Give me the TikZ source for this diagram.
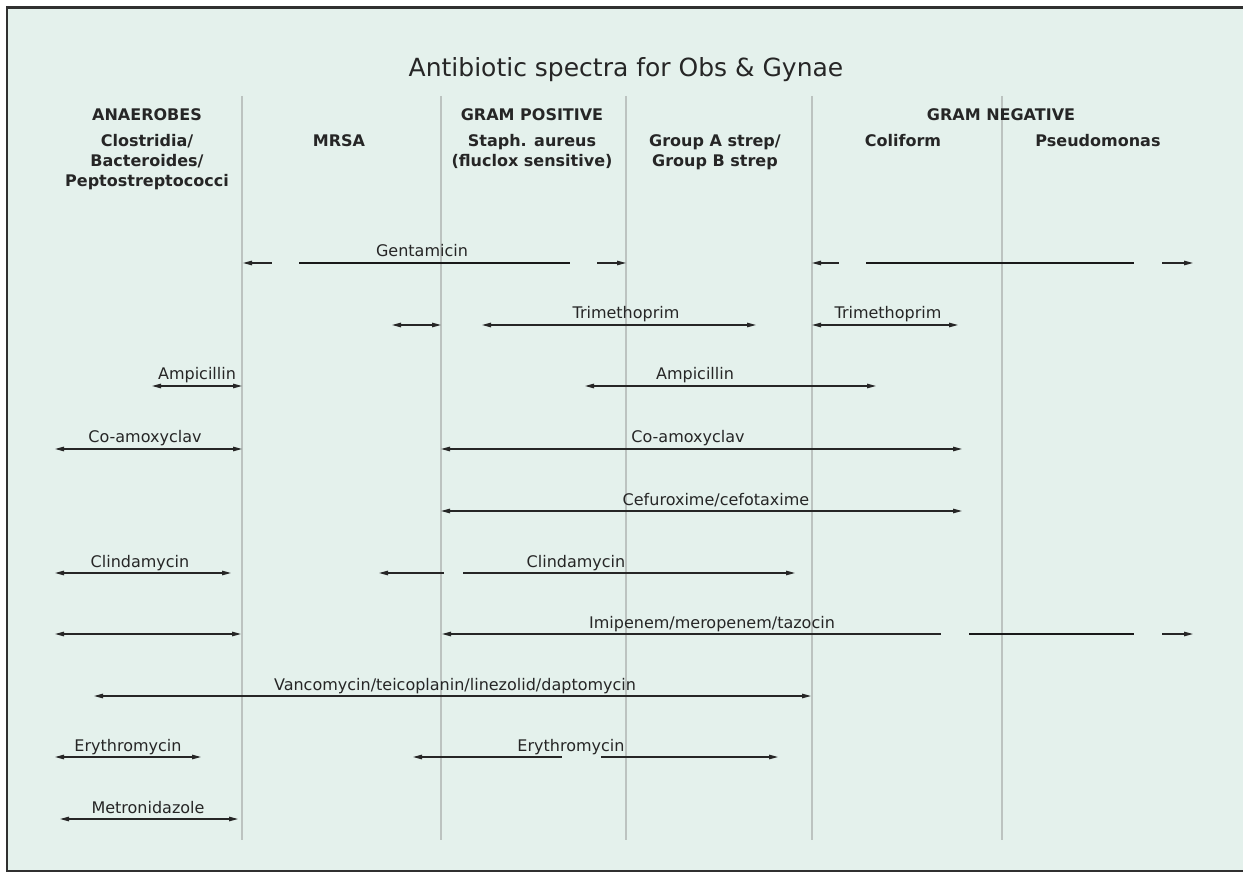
\documentclass[tikz,border=0pt]{standalone}
\usepackage{fontspec}
\setmainfont{DejaVu Sans}
\usetikzlibrary{arrows.meta}
\definecolor{bgc}{HTML}{E4F1EC}
\definecolor{ink}{HTML}{262626}
\definecolor{sepc}{HTML}{BCC3C0}
\definecolor{framec}{HTML}{303030}
\begin{document}
\begin{tikzpicture}[x=1pt,y=-1pt,
  >={Triangle[length=9pt,width=4.5pt]},
  lbl/.style={font=\fontsize{16}{19}\selectfont, text=ink, inner sep=0pt, anchor=base},
  hd/.style={font=\fontsize{16}{20}\selectfont\bfseries, text=ink, inner sep=0pt, anchor=base, align=center},
  ttl/.style={font=\fontsize{25}{30}\selectfont, text=ink, inner sep=0pt, anchor=base},
  rng/.style={draw=ink, line width=1.1pt},
  bar/.style={draw=black!90, line width=2.6pt},
  sepline/.style={draw=sepc, line width=1.2pt}]
\useasboundingbox (0,0) rectangle (1243,874);
\fill[white] (0,0) rectangle (1243,874);
\filldraw[fill=bgc, draw=framec, line width=2.6pt] (7,7.5) rectangle (1262,871);

% column separators
\foreach \n/\x in {s1/242, s2/441, s3/626, s4/812, s5/1002} {
  \coordinate (\n t) at (\x,96);
  \coordinate (\n b) at (\x,840);
  \draw[sepline] (\n t) -- (\n b);
}

% title and headers (base = baseline of the last line)
\node[ttl] (title) at (626,77) {Antibiotic spectra for Obs \& Gynae};
\node[hd] (hAn) at (147,121) {ANAEROBES};
\node[hd] (hGp) at (532,121) {GRAM POSITIVE};
\node[hd] (hGn) at (1001,121) {GRAM NEGATIVE};
\node[hd] (cAn) at (147,187) {Clostridia/\\Bacteroides/\\Peptostreptococci};
\node[hd] (cMr) at (339,147) {MRSA};
\node[hd] (cSa) at (532,167) {Staph. aureus\\(fluclox sensitive)};
\node[hd] (cGs) at (715,167) {Group A strep/\\Group B strep};
\node[hd] (cCo) at (903,147) {Coliform};
\node[hd] (cPs) at (1098,147) {Pseudomonas};

% Gentamicin
\coordinate (g1) at (243,263); \coordinate (g2) at (272,263);
\coordinate (g3) at (299,263); \coordinate (g4) at (570,263);
\coordinate (g5) at (597,263); \coordinate (g6) at (626,263);
\coordinate (g7) at (812,263); \coordinate (g8) at (839,263);
\coordinate (g9) at (866,263); \coordinate (g10) at (1134,263);
\coordinate (g11) at (1162,263); \coordinate (g12) at (1193,263);
\draw[rng,<-] (g1) -- (g2);
\draw[bar] (g3) -- (g4);
\draw[rng,->] (g5) -- (g6);
\draw[rng,<-] (g7) -- (g8);
\draw[bar] (g9) -- (g10);
\draw[rng,->] (g11) -- (g12);
\node[lbl] (lGen) at (422,257) {Gentamicin};

% Trimethoprim
\coordinate (t1) at (392,325); \coordinate (t2) at (441,325);
\coordinate (t3) at (482,325); \coordinate (t4) at (756,325);
\coordinate (t5) at (812,325); \coordinate (t6) at (958,325);
\draw[rng,<->] (t1) -- (t2);
\draw[rng,<->] (t3) -- (t4);
\draw[rng,<->] (t5) -- (t6);
\node[lbl] (lTri1) at (626,319) {Trimethoprim};
\node[lbl] (lTri2) at (888,319) {Trimethoprim};

% Ampicillin
\coordinate (a1) at (152,386); \coordinate (a2) at (242,386);
\coordinate (a3) at (585,386); \coordinate (a4) at (876,386);
\draw[rng,<->] (a1) -- (a2);
\draw[rng,<->] (a3) -- (a4);
\node[lbl] (lAmp1) at (197,380) {Ampicillin};
\node[lbl] (lAmp2) at (695,380) {Ampicillin};

% Co-amoxyclav
\coordinate (c1) at (55,449); \coordinate (c2) at (242,449);
\coordinate (c3) at (441,449); \coordinate (c4) at (962,449);
\draw[rng,<->] (c1) -- (c2);
\draw[rng,<->] (c3) -- (c4);
\node[lbl] (lCo1) at (145,443) {Co-amoxyclav};
\node[lbl] (lCo2) at (688,443) {Co-amoxyclav};

% Cefuroxime
\coordinate (f1) at (441,511); \coordinate (f2) at (962,511);
\draw[rng,<->] (f1) -- (f2);
\node[lbl] (lCef) at (716,505) {Cefuroxime/cefotaxime};

% Clindamycin
\coordinate (d1) at (55,573); \coordinate (d2) at (231,573);
\coordinate (d3) at (379,573); \coordinate (d4) at (444,573);
\coordinate (d5) at (463,573); \coordinate (d6) at (795,573);
\draw[rng,<->] (d1) -- (d2);
\draw[rng,<-] (d3) -- (d4);
\draw[rng,->] (d5) -- (d6);
\node[lbl] (lCl1) at (140,567) {Clindamycin};
\node[lbl] (lCl2) at (576,567) {Clindamycin};

% Imipenem
\coordinate (i1) at (55,634); \coordinate (i2) at (241,634);
\coordinate (i3) at (442,634); \coordinate (i4) at (941,634);
\coordinate (i5) at (969,634); \coordinate (i6) at (1134,634);
\coordinate (i7) at (1162,634); \coordinate (i8) at (1193,634);
\draw[rng,<->] (i1) -- (i2);
\draw[rng,<-] (i3) -- (i4);
\draw[bar] (i5) -- (i6);
\draw[rng,->] (i7) -- (i8);
\node[lbl] (lImi) at (712,628) {Imipenem/meropenem/tazocin};

% Vancomycin
\coordinate (v1) at (94,696); \coordinate (v2) at (811,696);
\draw[rng,<->] (v1) -- (v2);
\node[lbl] (lVan) at (455,690) {Vancomycin/teicoplanin/linezolid/daptomycin};

% Erythromycin
\coordinate (e1) at (55,757); \coordinate (e2) at (201,757);
\coordinate (e3) at (413,757); \coordinate (e4) at (562,757);
\coordinate (e5) at (601,757); \coordinate (e6) at (778,757);
\draw[rng,<->] (e1) -- (e2);
\draw[rng,<-] (e3) -- (e4);
\draw[rng,->] (e5) -- (e6);
\node[lbl] (lEr1) at (128,751) {Erythromycin};
\node[lbl] (lEr2) at (571,751) {Erythromycin};

% Metronidazole
\coordinate (m1) at (60,819); \coordinate (m2) at (238,819);
\draw[rng,<->] (m1) -- (m2);
\node[lbl] (lMet) at (148,813) {Metronidazole};
\end{tikzpicture}
\end{document}
